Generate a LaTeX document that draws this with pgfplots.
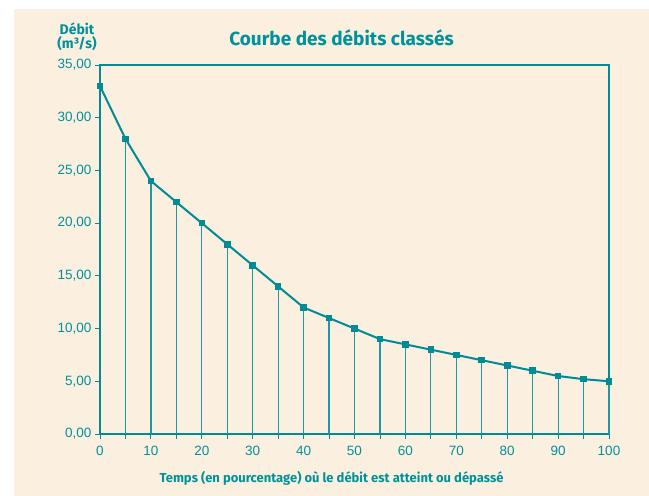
\documentclass[border=0pt]{standalone}
\usepackage{fontspec}
\setmainfont{Liberation Sans}
\newfontfamily\titlefont{Fira Sans}
\usepackage{pgfplots}
\pgfplotsset{compat=1.18}
\definecolor{bg}{HTML}{FBEFDF}
\definecolor{teal1}{HTML}{008B95}
\definecolor{tealtxt}{HTML}{00929C}
\definecolor{comb}{HTML}{1E98A1}
\begin{document}
\begin{tikzpicture}[x=1pt,y=1pt]
\path[use as bounding box] (0,0) rectangle (649,496);
\fill[white] (0,0) rectangle (649,496);
\fill[bg] (14,0) rectangle (649,487);
\begin{axis}[
  at={(100pt,62pt)}, anchor=south west,
  scale only axis, width=509pt, height=369pt,
  xmin=0, xmax=100, ymin=0, ymax=35,
  xtick={0,10,...,100}, minor xtick={5,15,...,95},
  ytick={0,5,...,35},
  tick align=outside, tick pos=left,
  major tick length=5pt, minor tick length=5pt,
  every tick/.style={teal1, line width=0.9pt},
  every minor tick/.style={teal1, line width=0.9pt},
  axis line style={teal1, line width=1.3pt},
  axis background/.style={fill=bg},
  tick label style={font=\fontsize{13.5}{14}\selectfont, text=tealtxt},
  /pgf/number format/assume math mode=true,
  yticklabel style={/pgf/number format/.cd, fixed, fixed zerofill, precision=2, use comma},
  xticklabel style={yshift=-4pt, /pgf/number format/.cd, fixed, precision=0},
  clip=false,
]
\addplot[ycomb, draw=comb, line width=1.2pt, no marks] coordinates {
(0,33)(5,28)(10,24)(15,22)(20,20)(25,18)(30,16)(35,14)(40,12)(45,11)(50,10)
(55,9)(60,8.5)(65,8)(70,7.5)(75,7)(80,6.5)(85,6)(90,5.5)(95,5.2)(100,5)};
\addplot[teal1, line width=2pt, mark=square*, mark size=2.8pt, mark options={solid, fill=teal1, line width=0pt}] coordinates {
(0,33)(5,28)(10,24)(15,22)(20,20)(25,18)(30,16)(35,14)(40,12)(45,11)(50,10)
(55,9)(60,8.5)(65,8)(70,7.5)(75,7)(80,6.5)(85,6)(90,5.5)(95,5.2)(100,5)};
\draw[teal1, line width=2.2pt] (rel axis cs:0,0) -- (rel axis cs:0,1);
\end{axis}
\node[font=\titlefont\bfseries\fontsize{19}{21}\selectfont, text=tealtxt] at (341.5,458) {Courbe des débits classés};
\node[font=\titlefont\bfseries\fontsize{14}{14.5}\selectfont, text=tealtxt, align=center] at (77,459) {Débit\\(m³/s)};
\node[font=\titlefont\bfseries\fontsize{13}{14}\selectfont, text=tealtxt] at (331.5,18) {Temps (en pourcentage) où le débit est atteint ou dépassé};
\end{tikzpicture}
\end{document}
